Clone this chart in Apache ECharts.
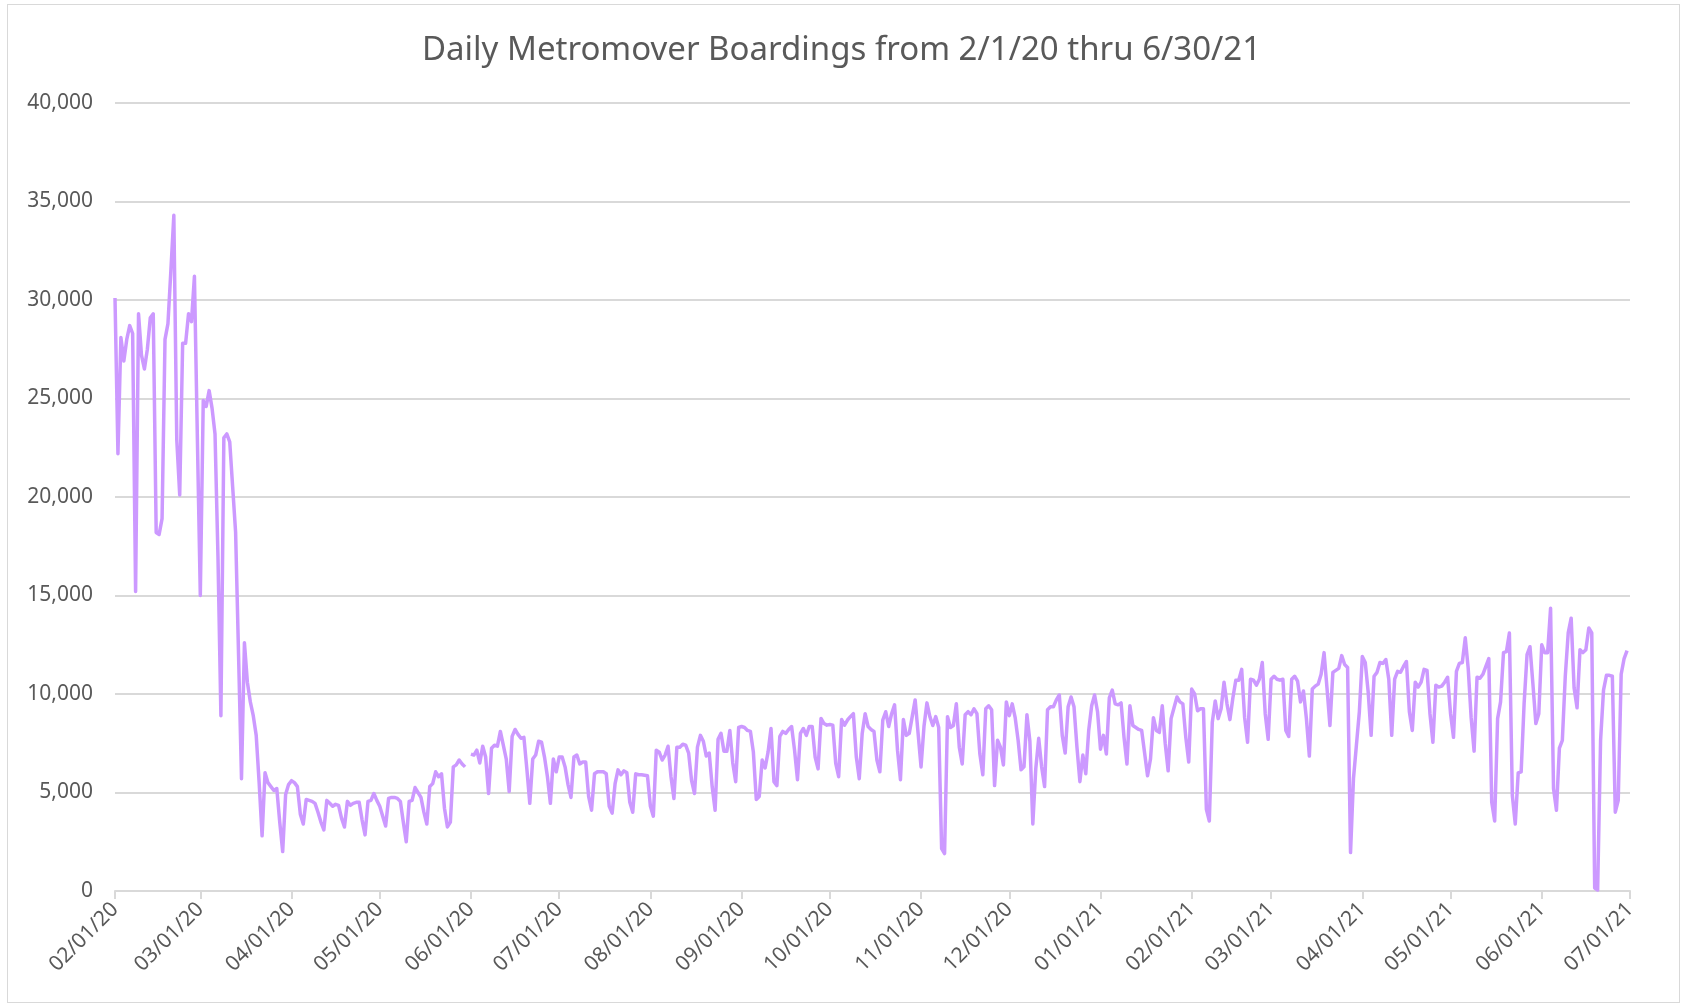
<!DOCTYPE html>
<html>
<head>
<meta charset="utf-8">
<title>Daily Metromover Boardings</title>
<script src="https://cdn.jsdelivr.net/npm/echarts@6/dist/echarts.min.js"></script>
<style>
  html, body { margin: 0; padding: 0; background: #fff; }
  #frame { position: absolute; left: 7px; top: 4px; width: 1673px; height: 999px; border: 1px solid #d9d9d9; box-sizing: border-box; }
  #chart { position: absolute; left: 0; top: 0; width: 1683px; height: 1006px; }
</style>
</head>
<body>
<div id="frame"></div>
<div id="chart"></div>
<script>
// daily boardings, one array per month
const feb20 = [30100, 22200, 28100, 26900, 28000, 28700, 28300, 15200, 29300, 27200,
  26500, 27500, 29100, 29300, 18200, 18100, 18900, 28000, 28800, 31500,
  34300, 22900, 20100, 27800, 27800, 29300, 28900, 31200, 23000];
const mar20 = [15000, 24900, 24600, 25400, 24500, 23200, 17000, 8900, 23000, 23200,
  22800, 20500, 18200, 12000, 5700, 12600, 10600, 9600, 8900, 7900,
  5500, 2800, 6000, 5500, 5300, 5100, 5200, 3500, 2000, 4900, 5400];
const apr20 = [5600, 5500, 5300, 3900, 3400, 4650, 4600, 4550, 4450, 4000,
  3500, 3100, 4600, 4450, 4300, 4400, 4350, 3700, 3250, 4550,
  4350, 4450, 4500, 4500, 3600, 2850, 4550, 4600, 4950, 4600];
const may20 = [4300, 3800, 3300, 4700, 4750, 4750, 4700, 4550, 3500, 2500,
  4550, 4600, 5250, 5000, 4750, 4000, 3400, 5300, 5450, 6050,
  5800, 5950, 4200, 3250, 3500, 6300, 6400, 6650, 6450, 6300, null];
const jun20 = [6950, 6900, 7150, 6500, 7350, 6800, 4950, 7250, 7400, 7350,
  8100, 7400, 6700, 5050, 7850, 8200, 7950, 7750, 7800, 6200,
  4450, 6700, 6900, 7600, 7550, 6800, 5800, 4450, 6700, 6050];
const jul20 = [6800, 6800, 6300, 5400, 4750, 6800, 6900, 6450, 6550, 6550,
  4800, 4100, 5950, 6050, 6050, 6050, 5950, 4300, 3950, 5450,
  6150, 5900, 6100, 6000, 4500, 4000, 5950, 5900, 5900, 5880, 5850];
const aug20 = [4300, 3800, 7150, 7050, 6650, 6900, 7350, 5800, 4700, 7300,
  7300, 7450, 7400, 7000, 5600, 4950, 7300, 7900, 7600, 6850,
  7000, 5300, 4100, 7700, 8000, 7100, 7100, 8150, 6500, 5550, 8300];
const sep20 = [8350, 8300, 8150, 8100, 7050, 4650, 4800, 6650, 6250, 7050,
  8250, 5550, 5350, 7850, 8100, 8000, 8200, 8350, 7150, 5650,
  8000, 8250, 7900, 8350, 8350, 6800, 6200, 8760, 8500, 8420];
const oct20 = [8450, 8420, 6480, 5800, 8700, 8420, 8680, 8850, 9000, 6800,
  5700, 8000, 9000, 8350, 8200, 8100, 6650, 6050, 8680, 9100,
  8350, 9000, 9450, 7150, 5650, 8700, 7900, 8000, 8850, 9700, 8000];
const nov20 = [6300, 8350, 9550, 8850, 8400, 8850, 8300, 2150, 1900, 8850,
  8300, 8400, 9500, 7300, 6450, 8950, 9100, 8950, 9250, 9000,
  6950, 5900, 9250, 9400, 9200, 5350, 7650, 7300, 6400, 9600];
const dec20 = [8900, 9500, 8800, 7650, 6150, 6300, 8950, 7600, 3400, 6200,
  7750, 6300, 5300, 9200, 9350, 9350, 9700, 9950, 7900, 7000,
  9350, 9850, 9350, 7300, 5550, 6900, 5950, 8150, 9400, 9950, 9100];
const jan21 = [7200, 7900, 6950, 9800, 10200, 9500, 9450, 9550, 7800, 6450,
  9400, 8400, 8300, 8200, 8150, 7000, 5850, 6700, 8800, 8150,
  8050, 9400, 7500, 6100, 8750, 9300, 9850, 9600, 9500, 7800, 6550];
const feb21 = [10250, 10000, 9150, 9250, 9250, 4150, 3550, 8550, 9650, 8750,
  9250, 10600, 9500, 8700, 9800, 10700, 10700, 11250, 8800, 7550,
  10750, 10700, 10450, 10750, 11600, 9000, 7700];
const mar21 = [10750, 10900, 10750, 10700, 10750, 8150, 7850, 10750, 10900, 10650,
  9600, 10150, 8750, 6850, 10250, 10400, 10500, 11000, 12100, 10300,
  8400, 11100, 11200, 11300, 11950, 11500, 11350, 1950, 5700, 7400, 9100];
const apr21 = [11900, 11600, 10100, 7900, 10900, 11100, 11600, 11550, 11750, 10750,
  7900, 10750, 11150, 11100, 11400, 11650, 9100, 8150, 10600, 10350,
  10600, 11250, 11200, 9000, 7550, 10450, 10350, 10400, 10600, 10850];
const may21 = [9000, 7800, 11150, 11550, 11600, 12850, 11300, 8800, 7100, 10850,
  10800, 11000, 11400, 11800, 4500, 3550, 8750, 9600, 12100, 12150,
  13100, 4850, 3400, 6000, 6050, 9500, 12000, 12400, 10500, 8500, 9000];
const jun21 = [12500, 12100, 12100, 14350, 5200, 4100, 7250, 7650, 10900, 13100,
  13850, 10300, 9300, 12250, 12100, 12250, 13350, 13100, 150, 50,
  7650, 10200, 10950, 10950, 10900, 4000, 4600, 11000, 11800, 12200];

// month keys (MM/YY) in the same order as the arrays above
const monthKeys = ['02/20', '03/20', '04/20', '05/20', '06/20', '07/20', '08/20', '09/20',
  '10/20', '11/20', '12/20', '01/21', '02/21', '03/21', '04/21', '05/21', '06/21'];
const monthValues = [feb20, mar20, apr20, may20, jun20, jul20, aug20, sep20,
  oct20, nov20, dec20, jan21, feb21, mar21, apr21, may21, jun21];
const lastLabel = '07/01/21';

const yTicks = [0, 5000, 10000, 15000, 20000, 25000, 30000, 35000, 40000];

// build the category list and the series from the month arrays
const dates = [];
const boardings = [];
monthKeys.forEach(function (key, i) {
    const mm = key.slice(0, 2);
    const yy = key.slice(3, 5);
    monthValues[i].forEach(function (v, d) {
        const dd = String(d + 1).padStart(2, '0');
        dates.push(mm + '/' + dd + '/' + yy);
        boardings.push(v);
    });
});
dates.push(lastLabel);
boardings.push(null);

const isMonthStart = function (idx, val) {
    return val.slice(3, 5) === '01';
};

const chart = echarts.init(document.getElementById('chart'));

const option = {
    animation: false,
    textStyle: { fontFamily: 'Noto Sans' },
    title: {
        text: 'Daily Metromover Boardings from 2/1/20 thru 6/30/21',
        left: 'center',
        top: 29,
        textStyle: { color: '#595959', fontSize: 33, fontWeight: 'normal', fontFamily: 'Noto Sans' }
    },
    grid: { left: 115, right: 53, top: 103, bottom: 115 },
    xAxis: {
        type: 'category',
        data: dates,
        boundaryGap: false,
        axisLine: { lineStyle: { color: '#d9d9d9', width: 2 } },
        axisTick: { interval: isMonthStart, length: 8, lineStyle: { color: '#d9d9d9', width: 2 } },
        axisLabel: {
            interval: isMonthStart,
            rotate: 45,
            margin: 15,
            color: '#595959',
            fontSize: 21,
            fontFamily: 'Noto Sans'
        },
        splitLine: { show: false }
    },
    yAxis: {
        type: 'value',
        min: yTicks[0],
        max: yTicks[yTicks.length - 1],
        interval: yTicks[1] - yTicks[0],
        axisLine: { show: false },
        axisTick: { show: false },
        axisLabel: {
            margin: 22,
            color: '#595959',
            fontSize: 21,
            fontFamily: 'Noto Sans',
            formatter: function (v) { return v.toLocaleString('en-US'); }
        },
        splitLine: { lineStyle: { color: '#d9d9d9', width: 2 } }
    },
    series: [{
        name: 'Boardings',
        type: 'line',
        data: boardings,
        showSymbol: false,
        connectNulls: false,
        lineStyle: { color: '#cc99ff', width: 3.5, join: 'round' },
        itemStyle: { color: '#cc99ff' }
    }]
};

chart.setOption(option);
</script>
</body>
</html>
